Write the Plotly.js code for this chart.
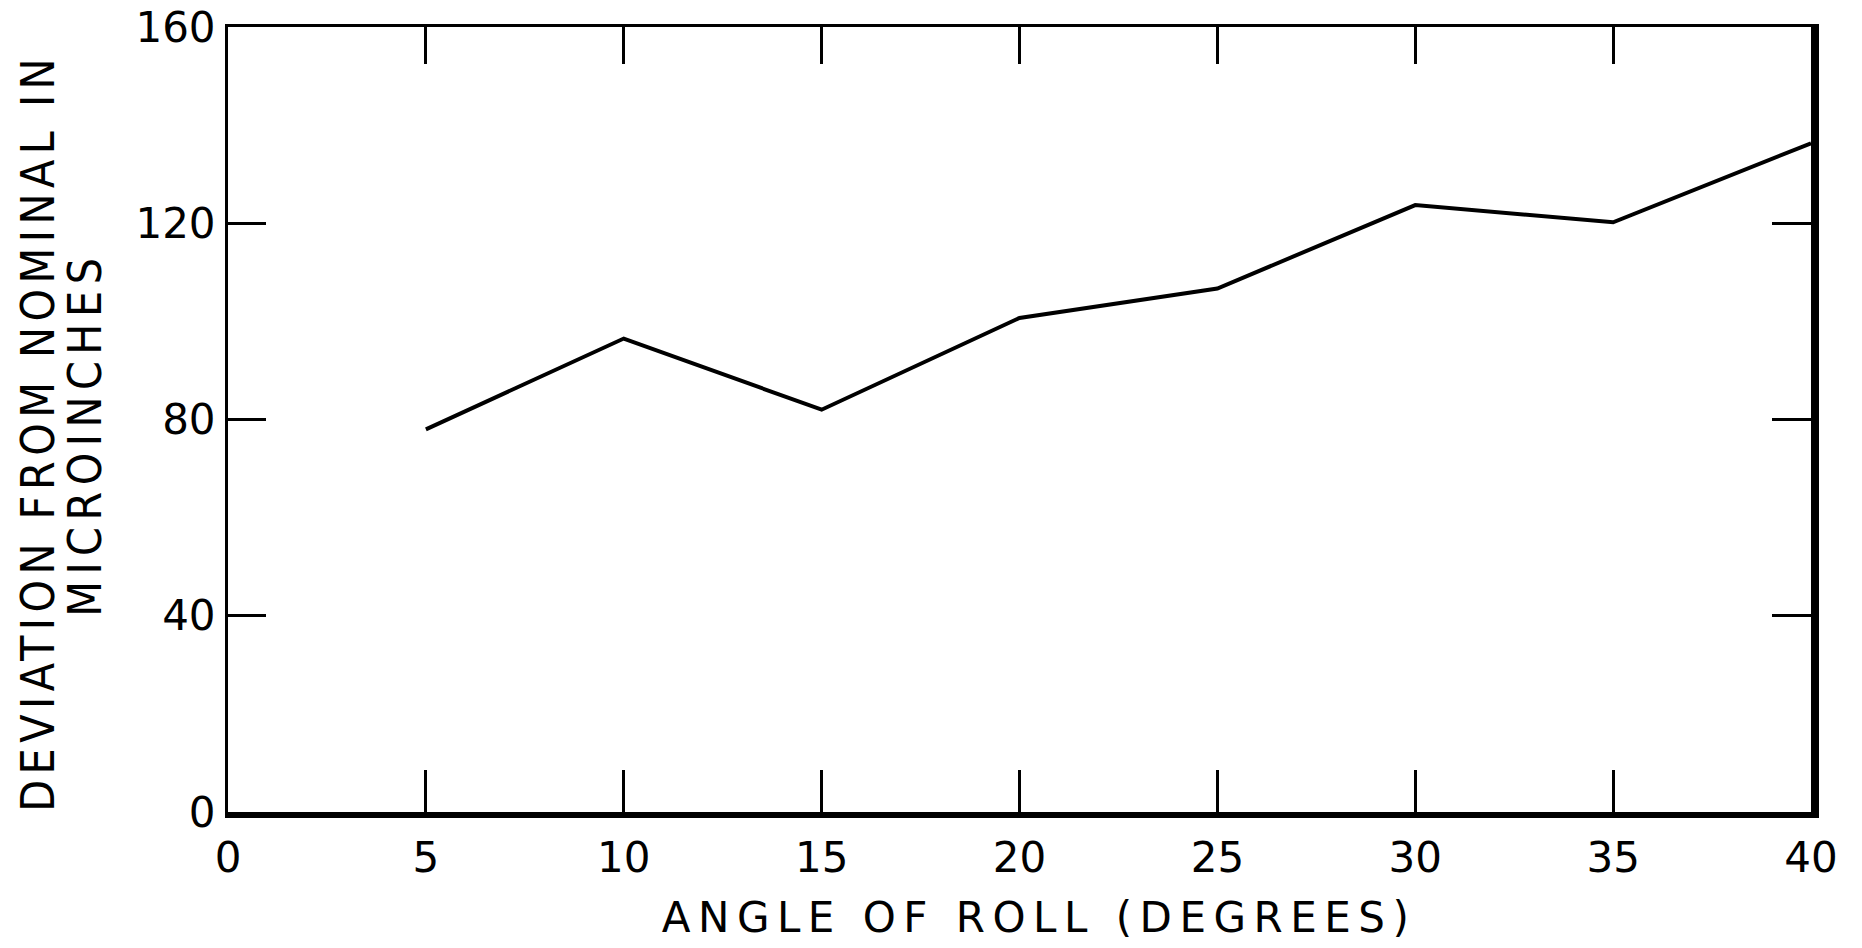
<!DOCTYPE html>
<html>
<head>
<meta charset="utf-8">
<script src="https://cdn.plot.ly/plotly-3.0.1.min.js"></script>
<style>
html, body { margin: 0; padding: 0; background: #ffffff; }
#chart { width: 1862px; height: 948px; }
</style>
</head>
<body>
<div id="chart"></div>
<script>
// Data
const angles = [5, 10, 15, 20, 25, 30, 35, 40];
const deviation = [78, 96.5, 82, 100.7, 106.7, 123.7, 120.2, 136.3];

const xTickVals = [0, 5, 10, 15, 20, 25, 30, 35, 40];
const xTickText = ["0", "5", "10", "15", "20", "25", "30", "35", "40"];
const xInnerTicks = [5, 10, 15, 20, 25, 30, 35];
const yTickVals = [0, 40, 80, 120, 160];
const yTickText = ["0", "40", "80", "120", "160"];
const yInnerTicks = [40, 80, 120];

const xTitle = "ANGLE OF ROLL (DEGREES)";
const yTitleLine1 = "DEVIATION FROM NOMINAL IN";
const yTitleLine2 = "MICROINCHES";

const FONT = "DejaVu Sans, Liberation Sans, sans-serif";
const FONT_C = "DejaVu Sans Condensed, DejaVu Sans, sans-serif";

const trace = {
  x: angles,
  y: deviation,
  type: "scatter",
  mode: "lines",
  line: { color: "#000000", width: 4 },
  hoverinfo: "x+y",
  showlegend: false
};

// empty trace so the top / right frame axes get their own subplot drawn
const frameTrace = {
  x: [],
  y: [],
  xaxis: "x2",
  yaxis: "y2",
  type: "scatter",
  mode: "lines",
  hoverinfo: "skip",
  showlegend: false
};

const layout = {
  width: 1862,
  height: 948,
  paper_bgcolor: "#ffffff",
  plot_bgcolor: "#ffffff",
  margin: { l: 228, r: 51, t: 27, b: 136 },
  showlegend: false,
  font: { family: FONT, size: 42, color: "#000000" },
  xaxis: {
    range: [0, 40],
    tickmode: "array",
    tickvals: xTickVals,
    ticktext: xTickText,
    ticks: "inside",
    ticklen: 42,
    tickwidth: 3,
    tickcolor: "#000000",
    showline: true,
    linewidth: 6,
    linecolor: "#000000",
    showgrid: false,
    zeroline: false,
    tickfont: { family: FONT, size: 42, color: "#000000" },
    ticklabelstandoff: 4,
    fixedrange: true
  },
  xaxis2: {
    range: [0, 40],
    overlaying: "x",
    anchor: "y2",
    side: "top",
    tickmode: "array",
    tickvals: xInnerTicks,
    ticks: "inside",
    ticklen: 37,
    tickwidth: 3,
    tickcolor: "#000000",
    showticklabels: false,
    showline: true,
    linewidth: 3,
    linecolor: "#000000",
    showgrid: false,
    zeroline: false,
    fixedrange: true
  },
  yaxis: {
    range: [0, 160],
    tickmode: "array",
    tickvals: yTickVals,
    ticktext: yTickText,
    ticks: "inside",
    ticklen: 38,
    tickwidth: 3,
    tickcolor: "#000000",
    showline: true,
    linewidth: 3,
    linecolor: "#000000",
    showgrid: false,
    zeroline: false,
    tickfont: { family: FONT, size: 42, color: "#000000" },
    ticklabelstandoff: 1,
    fixedrange: true
  },
  yaxis2: {
    range: [0, 160],
    overlaying: "y",
    anchor: "x2",
    side: "right",
    tickmode: "array",
    tickvals: yInnerTicks,
    ticks: "inside",
    ticklen: 39,
    tickwidth: 3,
    tickcolor: "#000000",
    showticklabels: false,
    showline: true,
    linewidth: 8,
    linecolor: "#000000",
    showgrid: false,
    zeroline: false,
    fixedrange: true
  },
  annotations: [
    {
      text: xTitle,
      xref: "paper", yref: "paper",
      x: 0.5123, y: -0.1338,
      xanchor: "center", yanchor: "middle",
      showarrow: false,
      font: { family: FONT, size: 42, color: "#000000" }
    },
    {
      text: yTitleLine1,
      xref: "paper", yref: "paper",
      x: -0.12, y: 0.4828,
      xanchor: "center", yanchor: "middle",
      textangle: -90,
      showarrow: false,
      font: { family: FONT_C, size: 46, color: "#000000" }
    },
    {
      text: yTitleLine2,
      xref: "paper", yref: "paper",
      x: -0.0903, y: 0.4815,
      xanchor: "center", yanchor: "middle",
      textangle: -90,
      showarrow: false,
      font: { family: FONT_C, size: 46, color: "#000000" }
    }
  ]
};

Plotly.newPlot("chart", [trace, frameTrace], layout, { displayModeBar: false, staticPlot: true }).then(function () {
  const spacings = ["7.5px", "5.5px", "6.5px"];
  const texts = document.querySelectorAll("#chart .annotation-text");
  texts.forEach(function (t, i) {
    if (spacings[i]) t.style.letterSpacing = spacings[i];
  });
});
</script>
</body>
</html>
